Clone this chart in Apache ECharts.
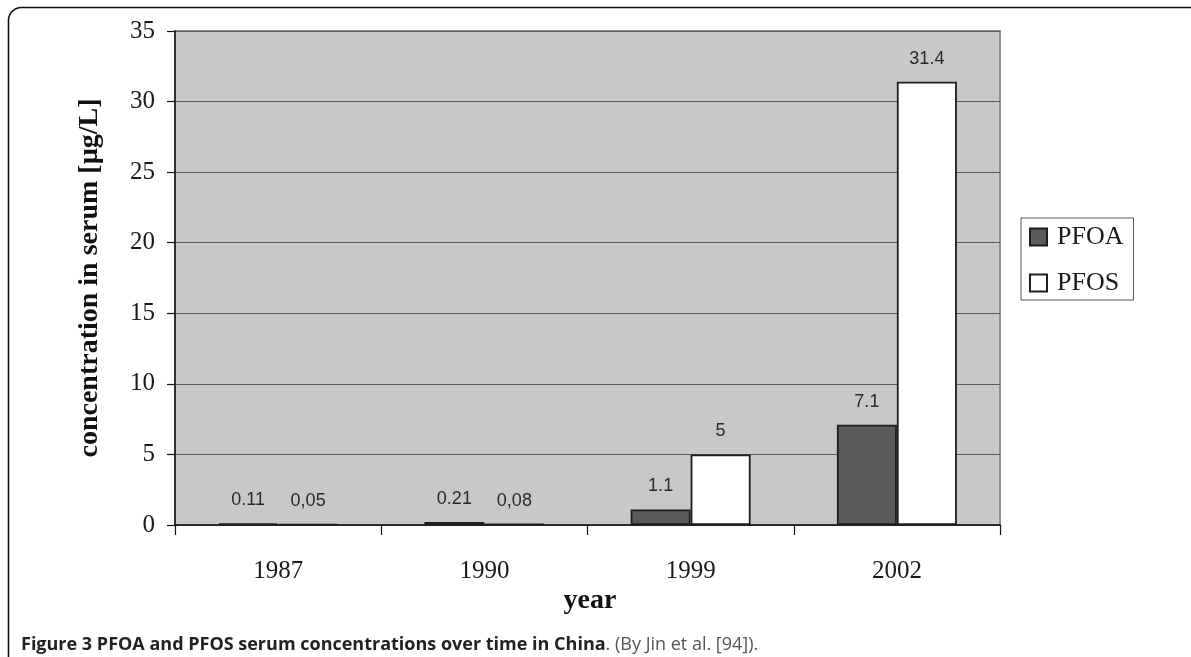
<!DOCTYPE html>
<html>
<head>
<meta charset="utf-8">
<title>PFOA and PFOS serum concentrations</title>
<script src="https://cdn.jsdelivr.net/npm/echarts@6/dist/echarts.min.js"></script>
<style>
  html, body { margin: 0; padding: 0; background: #fff; }
  #chart { width: 1191px; height: 657px; }
</style>
</head>
<body>
<div id="chart"></div>
<script>
// Survey years and serum concentrations (µg/L)
const years = ['1987', '1990', '1999', '2002'];
const pfoa = [0.11, 0.21, 1.1, 7.1];
const pfos = [0.05, 0.08, 5, 31.4];
// Value labels as printed above each bar
const pfoaLabels = ['0.11', '0.21', '1.1', '7.1'];
const pfosLabels = ['0,05', '0,08', '5', '31.4'];
const yTicks = { min: 0, max: 35, interval: 5 };

const serif = '"Liberation Serif", "Times New Roman", serif';
const sans = '"Liberation Sans", Arial, sans-serif';
const captionFont = '"Open Sans", "Noto Sans", sans-serif';

const chart = echarts.init(document.getElementById('chart'), null, { renderer: 'canvas' });

const labelStyle = (texts) => ({
  show: true,
  position: 'top',
  distance: 14,
  fontFamily: sans,
  fontSize: 18,
  color: '#2a2a2a',
  formatter: (p) => texts[p.dataIndex]
});

chart.setOption({
  animation: false,
  backgroundColor: '#fff',
  grid: {
    left: 175, right: 191, top: 31, bottom: 132,
    show: true,
    backgroundColor: '#c8c8ca',
    borderColor: '#8e8e8e',
    borderWidth: 2
  },
  legend: {
    orient: 'vertical',
    left: 1021, top: 218,
    itemWidth: 17, itemHeight: 17,
    itemGap: 20,
    padding: [6, 10, 4, 8],
    borderColor: '#555',
    borderWidth: 1,
    icon: 'rect',
    textStyle: { fontFamily: serif, fontSize: 26, color: '#1a1a1a', padding: [0, 0, 0, 5] },
    data: ['PFOA', 'PFOS']
  },
  xAxis: {
    type: 'category',
    data: years,
    axisLine: { lineStyle: { color: '#111', width: 1.5 } },
    axisTick: { show: true, length: 10, lineStyle: { color: '#111', width: 1.2 } },
    axisLabel: { margin: 34, fontFamily: serif, fontSize: 25, color: '#1a1a1a' },
    splitLine: { show: false }
  },
  yAxis: {
    type: 'value',
    min: yTicks.min, max: yTicks.max, interval: yTicks.interval,
    name: 'concentration in serum [µg/L]',
    nameLocation: 'middle',
    nameGap: 71,
    nameTextStyle: { fontFamily: serif, fontSize: 28, fontWeight: 'bold', color: '#111' },
    axisLine: { show: true, lineStyle: { color: '#111', width: 1.5 } },
    axisTick: { show: true, length: 8, lineStyle: { color: '#111', width: 1.2 } },
    axisLabel: { margin: 20, fontFamily: serif, fontSize: 25, color: '#1a1a1a' },
    splitLine: { lineStyle: { color: '#5c5c5c', width: 1.2 } }
  },
  series: [
    {
      name: 'PFOA',
      type: 'bar',
      data: pfoa,
      barWidth: 60,
      barGap: '0%',
      itemStyle: { color: '#5a5b5d', borderColor: '#1e1e1e', borderWidth: 1.8 },
      label: labelStyle(pfoaLabels)
    },
    {
      name: 'PFOS',
      type: 'bar',
      data: pfos,
      barWidth: 60,
      barGap: '0%',
      itemStyle: { color: '#ffffff', borderColor: '#1e1e1e', borderWidth: 1.8 },
      label: labelStyle(pfosLabels)
    }
  ],
  graphic: [
    {
      type: 'rect',
      silent: true,
      shape: { x: 8.5, y: 7.5, width: 1250, height: 760, r: 13 },
      style: { fill: 'none', stroke: '#111', lineWidth: 1.6 }
    },
    {
      type: 'text',
      x: 590, y: 601,
      style: {
        text: 'year', fontFamily: serif, fontSize: 28, fontWeight: 'bold', fill: '#111',
        align: 'center', verticalAlign: 'middle'
      }
    },
    {
      type: 'text',
      x: 21, y: 645,
      style: {
        text: '{b|Figure 3 PFOA and PFOS serum concentrations over time in China}{n|. (By Jin et al. [94]).}',
        verticalAlign: 'middle',
        rich: {
          b: { fontFamily: captionFont, fontSize: 18, fontWeight: 'bold', fill: '#222' },
          n: { fontFamily: captionFont, fontSize: 18, fill: '#555' }
        }
      }
    }
  ]
});
</script>
</body>
</html>
